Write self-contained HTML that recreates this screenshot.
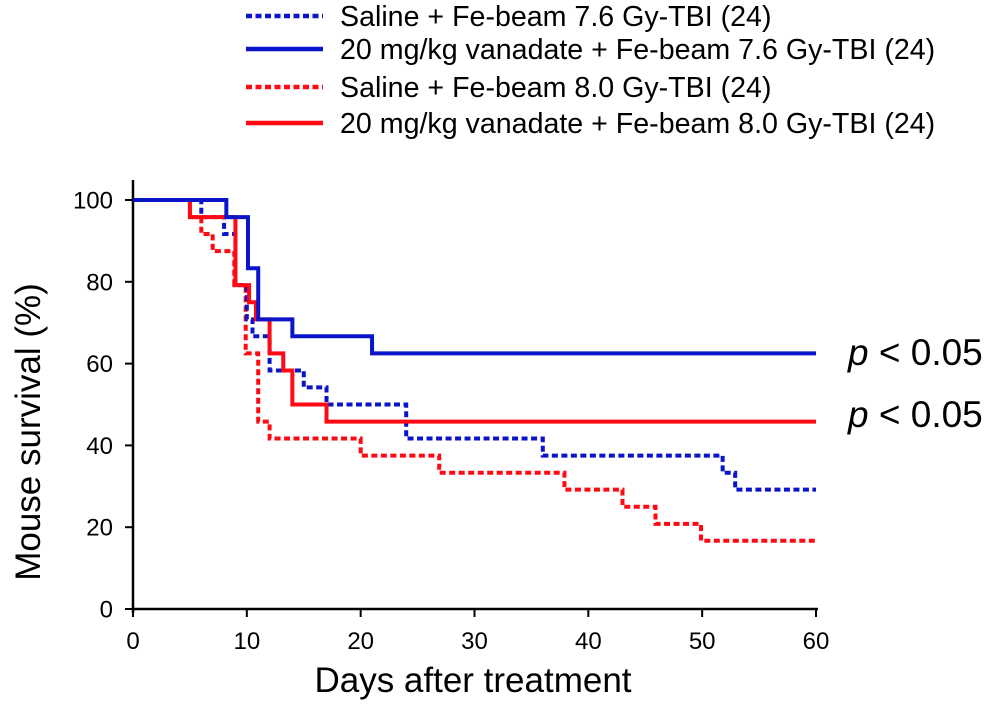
<!DOCTYPE html>
<html><head><meta charset="utf-8"><style>
body{margin:0;background:#fff;}
svg{display:block;font-family:"Liberation Sans",Arial,sans-serif;}
</style></head><body>
<svg id="chart" width="992" height="706" viewBox="0 0 992 706">
<g id="legend"></g>
<g id="axes"></g>
<g id="series"></g>
<text x="848" y="365" font-size="37"><tspan font-style="italic">p</tspan><tspan> &lt; 0.05</tspan></text>
<text x="848" y="427" font-size="37"><tspan font-style="italic">p</tspan><tspan> &lt; 0.05</tspan></text>
<text x="473" y="692" font-size="35" text-anchor="middle">Days after treatment</text>
<text transform="translate(40,432) rotate(-90)" font-size="35" text-anchor="middle">Mouse survival (%)</text>
</svg>
<script>
const xTicks=[0,10,20,30,40,50,60];
const yTicks=[0,20,40,60,80,100];
const seriesNames=["Saline + Fe-beam 7.6 Gy-TBI (24)","20 mg/kg vanadate + Fe-beam 7.6 Gy-TBI (24)","Saline + Fe-beam 8.0 Gy-TBI (24)","20 mg/kg vanadate + Fe-beam 8.0 Gy-TBI (24)"];
const seriesColors=["#0a14c8","#0a14c8","#ff0a14","#ff0a14"];
const seriesDashed=[true,false,true,false];
const blueDotT=[0,6,8,9,10,10.5,12,15,17,24,36,51.8,52.9,60];
const blueDotV=[100,95.8,91.7,79.2,70.8,66.7,58.3,54.2,50,41.7,37.5,33.3,29.2,29.2];
const blueSolT=[0,8.2,10.1,11,14,21,60];
const blueSolV=[100,95.8,83.3,70.8,66.7,62.5,62.5];
const redDotT=[0,5,6,7,8.9,9.9,11,12,20,26.9,37.9,43,45.9,49.9,60];
const redDotV=[100,95.8,91.7,87.5,79.2,62.5,45.8,41.7,37.5,33.3,29.2,25,20.8,16.7,16.7];
const redSolT=[0,5,9,10.2,10.8,12,13.2,14,17,60];
const redSolV=[100,95.8,79.2,75,70.8,62.5,58.3,50,45.8,45.8];
const allT=[blueDotT,blueSolT,redDotT,redSolT];
const allV=[blueDotV,blueSolV,redDotV,redSolV];
const NS="http://www.w3.org/2000/svg";
const X0=133,X1=816,Y0=609,Y1=200;
function xs(d){return X0+(d/60)*(X1-X0);}
function ys(v){return Y0-(v/100)*(Y0-Y1);}
function mk(tag,attrs,parent){const e=document.createElementNS(NS,tag);for(const k in attrs)e.setAttribute(k,attrs[k]);parent.appendChild(e);return e;}
const axes=document.getElementById('axes');
let a=mk('line',{x1:X0,y1:180,x2:X0,y2:Y0+4,stroke:'#000','stroke-width':2.5},axes);


a=mk('line',{x1:X0,y1:Y0,x2:X1+2,y2:Y0,stroke:'#000','stroke-width':2.5},axes);


xTicks.forEach(t=>{
 const l=mk('line',{x1:xs(t),y1:Y0,x2:xs(t),y2:Y0+8,stroke:'#000','stroke-width':2},axes);
 
 
 const tx=mk('text',{x:xs(t),y:649,'font-size':24,'text-anchor':'middle'},axes);tx.textContent=t;
 
 
});
yTicks.forEach(t=>{
 const l=mk('line',{x1:X0-8,y1:ys(t),x2:X0,y2:ys(t),stroke:'#000','stroke-width':2},axes);
 
 
 const tx=mk('text',{x:113,y:ys(t)+8.5,'font-size':24,'text-anchor':'end'},axes);tx.textContent=t;
 
 
});
const sg=document.getElementById('series');
const order=[2,0,3,1];
order.forEach(i=>{
 const T=allT[i],V=allV[i];
 let d='M'+xs(T[0])+','+ys(V[0]);
 for(let k=1;k<T.length;k++){d+=' H'+xs(T[k])+' V'+ys(V[k]);}
 const p=mk('path',{d:d,fill:'none',stroke:seriesColors[i],'stroke-width':4,'stroke-dasharray':seriesDashed[i]?'6,3.5':'none'},sg);
 
 
});
const lg=document.getElementById('legend');
const ly=[16,49,87,123];
seriesNames.forEach((n,i)=>{
 const l=mk('line',{x1:246,y1:ly[i],x2:323,y2:ly[i],stroke:seriesColors[i],'stroke-width':4.5,'stroke-dasharray':seriesDashed[i]?'6,3.5':'none'},lg);
 
 
 const t=mk('text',{x:340,y:ly[i]+10,'font-size':28.6},lg);t.textContent=n;
 
 
});
</script>
</body></html>
